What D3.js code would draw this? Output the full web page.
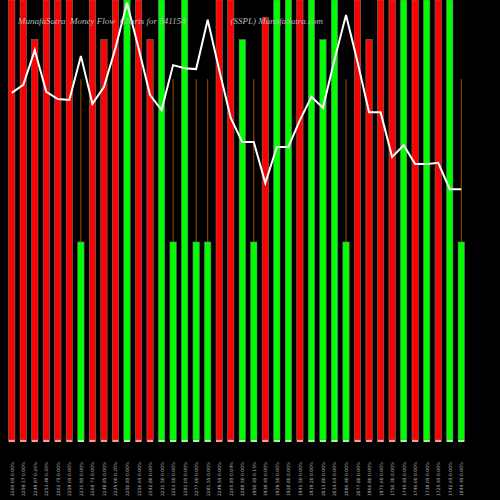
<!DOCTYPE html>
<html><head><meta charset="utf-8">
<script src="https://cdn.jsdelivr.net/npm/d3@7"></script>
<style>body{margin:0;background:#000}</style></head>
<body><svg id="c" width="500" height="500"></svg>
<script>
const labels=["2260.05 0.00%","2259.17 0.00%","2249.87 0.26%","2253.48 0.20%","2262.75 0.00%","2259.05 0.00%","2231.95 0.00%","2268.73 0.00%","2249.85 0.00%","2225.00 0.20%","2250.85 0.00%","2256.65 0.00%","2242.80 0.00%","2231.50 0.00%","2263.50 0.00%","2281.05 0.00%","2277.00 0.00%","2281.55 0.00%","2249.55 0.00%","2265.85 0.04%","2288.50 0.00%","1950.45 0.15%","1938.45 0.00%","1929.50 0.00%","1928.80 0.00%","1941.50 0.00%","1919.20 0.00%","2013.80 0.00%","2034.65 0.00%","2086.40 0.00%","2077.80 0.00%","1966.80 0.00%","1971.60 0.00%","1750.30 0.00%","1745.45 0.00%","1746.00 0.00%","1738.05 0.00%","1725.45 0.00%","1742.65 0.00%","1844.45 0.00%"];
const colors=["r","r","r","r","r","r","g","r","r","r","g","r","r","g","g","g","g","g","r","r","g","g","r","g","g","r","g","g","g","g","r","r","r","r","g","r","g","r","g","g"];
const barVals=[100,100,91,100,100,100,45,100,91,100,100,100,91,100,45,100,45,45,100,100,91,45,96,100,100,100,100,91,100,45,100,91,100,100,100,100,100,100,100,45];
const lineVals=[78.9,80.7,88.6,79.1,77.5,77.3,87.3,76.4,80.2,89.1,99.3,89.1,78.4,75,85.2,84.5,84.3,95.5,84.1,73.2,67.7,67.7,58.4,66.6,66.6,72.7,78,75.5,86.4,96.6,85.9,74.5,74.5,64.3,67,62.7,62.7,63,57,57];
const svg=d3.select("#c");
svg.append("rect").attr("width",500).attr("height",500).attr("fill","#000");
const x=d3.scaleBand().domain(d3.range(labels.length)).range([6.25,466.75]).paddingInner(0.45).paddingOuter(0.2);
const y=d3.scaleLinear().domain([0,100]).range([440,0]);
const col=c=>c==="r"?"#ff0000":"#00ff00";
// orange thin lines for short bars
svg.selectAll(".o").data(barVals.map((v,i)=>({v,i})).filter(d=>d.v<50)).enter().append("line")
 .attr("x1",d=>x(d.i)+x.bandwidth()/2).attr("x2",d=>x(d.i)+x.bandwidth()/2)
 .attr("y1",y(82)).attr("y2",d=>y(d.v)).attr("stroke","#a05000").attr("stroke-width",1);
svg.selectAll(".b").data(barVals).enter().append("rect")
 .attr("x",(d,i)=>x(i)).attr("width",x.bandwidth()).attr("y",d=>y(d)).attr("height",d=>y(0)-y(d))
 .attr("fill",(d,i)=>col(colors[i])).attr("stroke","#777").attr("stroke-width",0.6);
svg.selectAll(".m").data(colors).enter().append("rect")
 .attr("x",(d,i)=>x(i)).attr("width",x.bandwidth()).attr("y",y(0)).attr("height",2)
 .attr("fill",d=>d==="r"?"#ff9999":"#99ff99");
svg.append("path").datum(lineVals).attr("fill","none").attr("stroke","#fff").attr("stroke-width",2)
 .attr("d",d3.line().x((d,i)=>x(i)+x.bandwidth()/2).y(d=>y(d)));
svg.append("text").attr("x",18).attr("y",24).attr("fill","#bbb").attr("font-family","Liberation Serif").attr("font-style","italic").attr("font-size",9)
 .attr("xml:space","preserve").text("MunafaSutra  Money Flow  Charts for 541154                    (SSPL) MunafaSutra.com");
svg.selectAll(".l").data(labels).enter().append("text")
 .attr("transform",(d,i)=>`translate(${x(i)+x.bandwidth()/2+2},496) rotate(-90)`)
 .attr("fill","#aaa").attr("font-family","DejaVu Sans").attr("font-size",4.5).text(d=>d);
</script></body></html>
